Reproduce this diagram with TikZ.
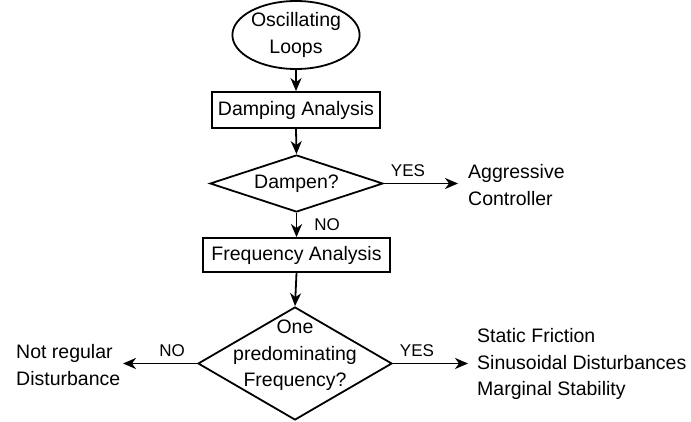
\documentclass[tikz,border=0pt]{standalone}
\usepackage{fontspec}
\setmainfont{Liberation Sans}
\usetikzlibrary{shapes.geometric,arrows.meta}
\begin{document}
\begin{tikzpicture}[x=1pt,y=-1pt,
  every node/.style={font=\fontsize{19.5}{26.5}\selectfont},
  line/.style={line width=1.8pt},
  arr/.style={line, -{Stealth[length=13pt,width=11pt,inset=4pt]}},
  boxnode/.style={draw, line width=1.8pt, rectangle, inner sep=0pt},
  decision/.style={draw, line width=1.8pt, diamond, inner sep=0pt},
  tag/.style={font=\fontsize{17}{20}\selectfont, inner sep=0pt},
  txt/.style={align=left, anchor=west, inner sep=0pt}
]
\useasboundingbox (0,0) rectangle (691,421);

% start
\node[draw, line width=1.8pt, ellipse, minimum width=118pt, minimum height=68pt,
      inner sep=0pt, align=center] (start) at (296,35) {Oscillating\\Loops};

% damping analysis
\node[boxnode, minimum width=168pt, minimum height=36pt] (damp) at (296,110) {Damping Analysis};

% first decision
\node[decision, minimum width=173pt, minimum height=57pt] (dampen) at (296.5,183.5) {};
\node[inner sep=0pt] (dampentxt) at (296.5,183.5) {Dampen?};

% frequency analysis
\node[boxnode, minimum width=187pt, minimum height=34pt] (freq) at (296.5,255) {Frequency Analysis};

% second decision
\node[decision, minimum width=194pt, minimum height=113pt] (pred) at (295,363.5) {};
\node[inner sep=0pt, align=center] (predtxt) at (295,355.5) {One\\predominating\\Frequency?};

% outcomes
\node[txt] (aggr) at (468,185) {Aggressive\\Controller};
\node[txt] (right) at (477,364) {Static Friction\\Sinusoidal Disturbances\\Marginal Stability};
\node[txt] (left) at (16,365) {Not regular\\Disturbance};

\coordinate (aggrtip) at (458,183.5);
\coordinate (righttip) at (468,363.5);
\coordinate (lefttip) at (123,363.5);

% connectors
\draw[arr] (start.south) -- (damp.north);
\draw[arr] (damp.south) -- (dampen.north);
\draw[arr] (dampen.east) -- (aggrtip);
\draw[arr] (dampen.south) -- (freq.north);
\draw[arr] (freq.south) -- (pred.north);
\draw[arr] (pred.west) -- (lefttip);
\draw[arr] (pred.east) -- (righttip);

% branch labels
\node[tag] (yes1) at (408,171) {YES};
\node[tag] (no1) at (327,225) {NO};
\node[tag] (no2) at (172,351) {NO};
\node[tag] (yes2) at (417,351) {YES};
\end{tikzpicture}
\end{document}
